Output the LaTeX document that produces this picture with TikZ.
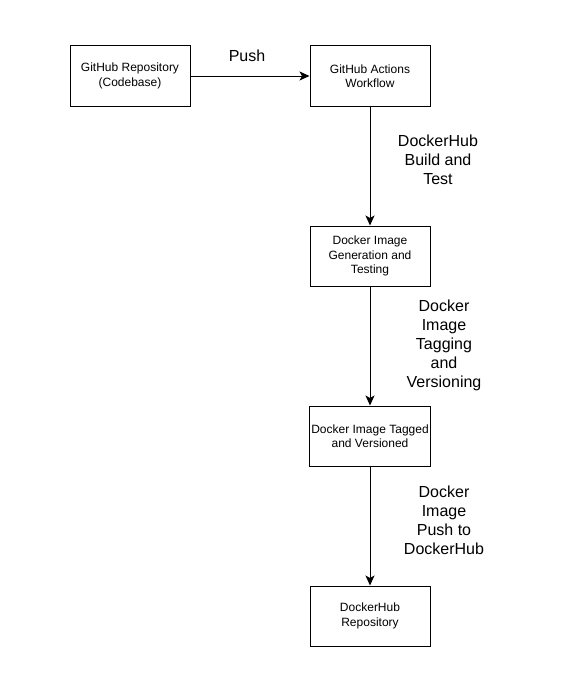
\documentclass[tikz,border=0pt]{standalone}
\usepackage{fontspec}
\setmainfont{Liberation Sans}
\usetikzlibrary{arrows.meta,positioning}

\begin{document}
\begin{tikzpicture}[x=1pt, y=-1pt, node distance=119pt,
    box/.style={draw, line width=1pt, minimum width=120pt, minimum height=60pt,
        align=center, inner sep=2pt, font=\fontsize{12}{14.5}\selectfont},
    flow/.style={line width=1pt, -{Stealth[length=10pt, width=9pt, inset=2.5pt]}},
    lbl/.style={align=center, inner sep=0pt, font=\fontsize{16}{19}\selectfont}]
        % Canvas
        \useasboundingbox (0,0) rectangle (566,677);

        % Boxes
        \node[box] (repo) at (130,76) {GitHub Repository\\(Codebase)};
        \node[box, right=of repo] (actions) {GitHub Actions\\Workflow};
        \node[box, below=of actions] (imagegen) {Docker Image\\Generation and\\Testing};
        \node[box, below=of imagegen] (tagged) {Docker Image Tagged\\and Versioned};
        \node[box, below=of tagged] (hubrepo) {DockerHub\\Repository};

        % Connectors with labels
        \draw[flow] (repo) -- node[lbl, midway, above=14pt, xshift=-3pt] (pushlbl) {Push} (actions);
        \draw[flow] (actions) -- node[lbl, midway, xshift=68pt, yshift=6.5pt] (buildlbl)
            {DockerHub\\Build and\\Test} (imagegen);
        \draw[flow] (imagegen) -- node[lbl, midway, xshift=74pt, yshift=1pt] (taglbl)
            {Docker\\Image\\Tagging\\and\\Versioning} (tagged);
        \draw[flow] (tagged) -- node[lbl, midway, xshift=74pt, yshift=5.5pt] (pushhublbl)
            {Docker\\Image\\Push to\\DockerHub} (hubrepo);
    \end{tikzpicture}
\end{document}
